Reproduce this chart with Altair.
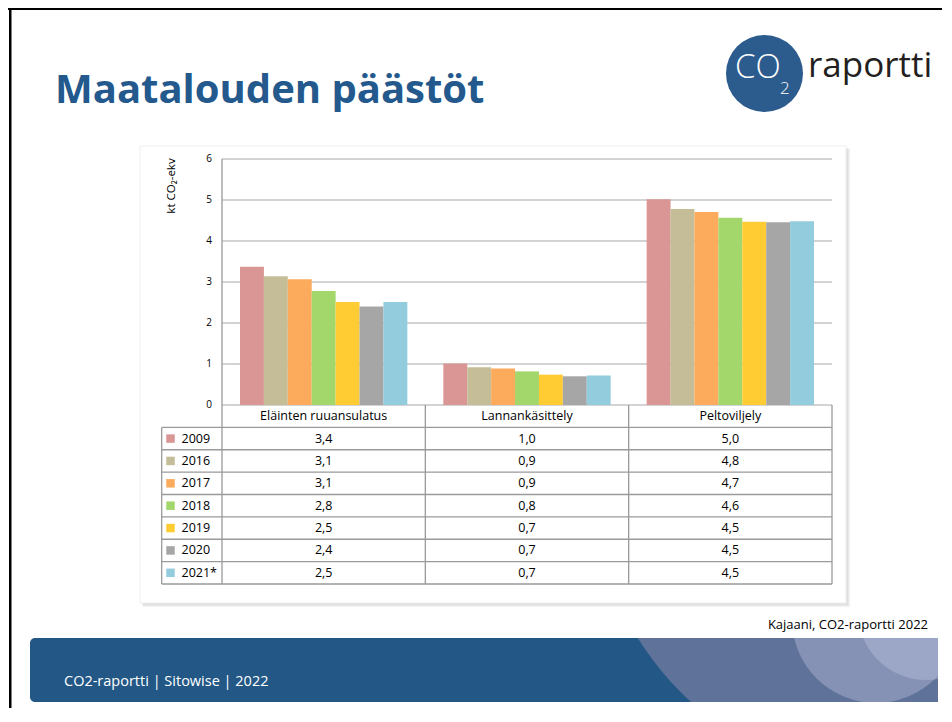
import altair as alt
import pandas as pd

# ---------------- data ----------------
categories = ["Eläinten ruuansulatus", "Lannankäsittely", "Peltoviljely"]
years = ["2009", "2016", "2017", "2018", "2019", "2020", "2021*"]
elainten = [3.37, 3.14, 3.07, 2.78, 2.51, 2.40, 2.51]
lanta = [1.01, 0.92, 0.89, 0.82, 0.74, 0.70, 0.72]
pelto = [5.02, 4.78, 4.71, 4.57, 4.47, 4.46, 4.48]
year_colors = ["#D99694", "#C4BD97", "#FCAA5B", "#A3D66B", "#FFCC33", "#A6A6A6", "#93CDDD"]
y_ticks = [0, 1, 2, 3, 4, 5, 6]

rows = []
for cat, vals in zip(categories, [elainten, lanta, pelto]):
    for yr, v in zip(years, vals):
        rows.append({"category": cat, "year": yr, "value": v})
df = pd.DataFrame(rows)
grid_df = pd.DataFrame({"t": y_ticks})
hdr_df = pd.DataFrame({"category": categories, "row": ["hdr"] * len(categories)})
leg_df = pd.DataFrame({"year": years})

# ---------------- layout (page pixel coords) ----------------
OX, OY = 222, 159          # plot origin on the page
W, H = 610, 246            # plot area
TABLE_H = 179              # header + 7 rows
FONT = "Open Sans"
GRID = "#A8A8A8"
LINE = "#9A9A9A"


def px(x):
    return x - OX


def py(y):
    return y - OY


one = alt.Data(values=[{"k": 1}])


def rect(x1, y1, x2, y2, color, **kw):
    return alt.Chart(one).mark_rect(color=color, **kw).encode(
        x=alt.value(px(x1)), x2=alt.value(px(x2)),
        y=alt.value(py(y1)), y2=alt.value(py(y2)))


def text(x, y, s, **kw):
    kw.setdefault("baseline", "alphabetic")
    kw.setdefault("align", "left")
    kw.setdefault("font", FONT)
    return alt.Chart(one).mark_text(text=s, **kw).encode(
        x=alt.value(px(x)), y=alt.value(py(y)))


def circle(cx, cy, r, color, opacity=1.0):
    # Vega symbol size is the area of the bounding square: r = sqrt(size) / 2
    return alt.Chart(one).mark_circle(color=color, opacity=opacity,
                                      size=(2 * r) ** 2).encode(
        x=alt.value(px(cx)), y=alt.value(py(cy)))


def vline(x, y1, y2, color=LINE, w=1.3):
    return alt.Chart(one).mark_rule(color=color, strokeWidth=w).encode(
        x=alt.value(px(x)), y=alt.value(py(y1)), y2=alt.value(py(y2)))


def hline(x1, x2, y, color=LINE, w=1.3):
    return alt.Chart(one).mark_rule(color=color, strokeWidth=w).encode(
        x=alt.value(px(x1)), x2=alt.value(px(x2)), y=alt.value(py(y)))


# ---------------- scales ----------------
xscale = alt.Scale(domain=categories, paddingInner=0.177, paddingOuter=0.0885)
X = alt.X("category:N", scale=xscale, axis=None)
yq = alt.Scale(domain=[0, 6], nice=False, zero=True)
row_domain = ["hdr"] + years
yrow = alt.Scale(domain=row_domain, range=[H, H + TABLE_H], paddingInner=0, paddingOuter=0)
cscale = alt.Scale(domain=years, range=year_colors)

# ---------------- slide background ----------------
band = rect(30, 638, 938, 702, "#225786", cornerRadius=5)
c1 = circle(895, 478, 303, "#5F7299")
c2 = circle(876, 619, 84, "#C2C9E2", 0.38)
c3 = circle(926, 612, 68, "#C2C9E2", 0.38)
mask1 = rect(12, 11, 942, 638, "white")
mask2 = rect(938, 638, 942, 702, "white")
mask3 = rect(12, 702, 942, 708, "white")

sh1 = rect(143, 149, 850, 607, "#000000", opacity=0.05)
sh2 = rect(142, 148, 848.5, 605.5, "#000000", opacity=0.07)
box = rect(140, 146, 846, 603, "white", stroke="#EEEEEE", strokeWidth=1)

# ---------------- chart ----------------
grid = alt.Chart(grid_df).mark_rule(color=GRID, strokeWidth=1.2).encode(
    y=alt.Y("t:Q", scale=yq, axis=None), x=alt.value(0), x2=alt.value(W))
ylabels = alt.Chart(grid_df).mark_text(
    align="right", baseline="middle", font=FONT, fontSize=10, color="#000000").encode(
    y=alt.Y("t:Q", scale=yq, axis=None), x=alt.value(-10), text="t:Q")
ytitle = text(172, 186, "kt CO₂-ekv", angle=270, align="center", baseline="middle",
              fontSize=11.5, color="#000000")

bars = alt.Chart(df).mark_bar().encode(
    x=X,
    xOffset=alt.XOffset("year:N", scale=alt.Scale(domain=years, paddingInner=0, paddingOuter=0)),
    y=alt.Y("value:Q", scale=yq, axis=None),
    color=alt.Color("year:N", scale=cscale, legend=None),
)

table_vals = alt.Chart(df).transform_calculate(
    label="replace(format(datum.value, '.1f'), '.', ',')"
).mark_text(font=FONT, fontSize=12.5, baseline="middle", color="#000000").encode(
    x=X, y=alt.Y("year:N", scale=yrow, axis=None), text="label:N")

header = alt.Chart(hdr_df).mark_text(font=FONT, fontSize=12.5, baseline="middle",
                                     color="#000000").encode(
    x=X, y=alt.Y("row:N", scale=yrow, axis=None), text="category:N")

leg_sq = alt.Chart(leg_df).mark_square(size=72, opacity=1).encode(
    x=alt.value(px(170.5)), y=alt.Y("year:N", scale=yrow, axis=None),
    color=alt.Color("year:N", scale=cscale, legend=None))
leg_tx = alt.Chart(leg_df).mark_text(font=FONT, fontSize=12.5, align="left",
                                     baseline="middle", color="#000000").encode(
    x=alt.value(px(181.5)), y=alt.Y("year:N", scale=yrow, axis=None), text="year:N")

row_lines = alt.Chart(leg_df).mark_rule(color=LINE, strokeWidth=1.3).encode(
    y=alt.Y("year:N", scale=yrow, axis=None, bandPosition=0),
    x=alt.value(px(161.7)), x2=alt.value(W))

bottom_y = OY + H + TABLE_H
first_row_y = OY + H + TABLE_H / 8
tlines = [
    vline(OX, OY, bottom_y),
    vline(OX + W / 3, OY + H, bottom_y),
    vline(OX + 2 * W / 3, OY + H, bottom_y),
    vline(OX + W, OY + H, bottom_y),
    vline(161.7, first_row_y, bottom_y),
    hline(161.7, OX + W, bottom_y),
]

# ---------------- slide texts ----------------
title = text(55, 103, "Maatalouden päästöt", fontSize=40, fontWeight="bold", color="#23598C")
logo_c = circle(764.5, 73.5, 38.5, "#2B5C8D")
logo_co = text(735, 78, "CO", fontSize=33, fontWeight=300, color="white")
logo_2 = text(780, 94, "2", fontSize=17, fontWeight=300, color="white")
logo_r = text(808, 77, "raportti", fontSize=35, color="#231F20")
source = text(928, 629, "Kajaani, CO2-raportti 2022", fontSize=13, align="right", color="#000000")
footer = text(64, 686, "CO2-raportti | Sitowise | 2022", fontSize=14.5, color="white")

frame_l = rect(9, 8, 11.5, 708, "#000000")
frame_t = rect(8, 8, 942, 10, "#000000")

layers = [band, c1, c2, c3, mask1, mask2, mask3, sh1, sh2, box,
          grid, bars, ylabels, ytitle, table_vals, header, leg_sq, leg_tx, row_lines,
          *tlines, title, logo_c, logo_co, logo_2, logo_r, source, footer, frame_l, frame_t]

chart = alt.layer(*layers).resolve_scale(y="independent").properties(
    width=W, height=H,
    padding={"left": OX - 8, "top": OY - 8, "right": 934 - (OX - 8) - W,
             "bottom": 700 - (OY - 8) - H},
    autosize=alt.AutoSizeParams(type="none"),
    background="white",
).configure_view(strokeWidth=0)

chart.save("out.html", embed_options={"renderer": "svg", "actions": False})
